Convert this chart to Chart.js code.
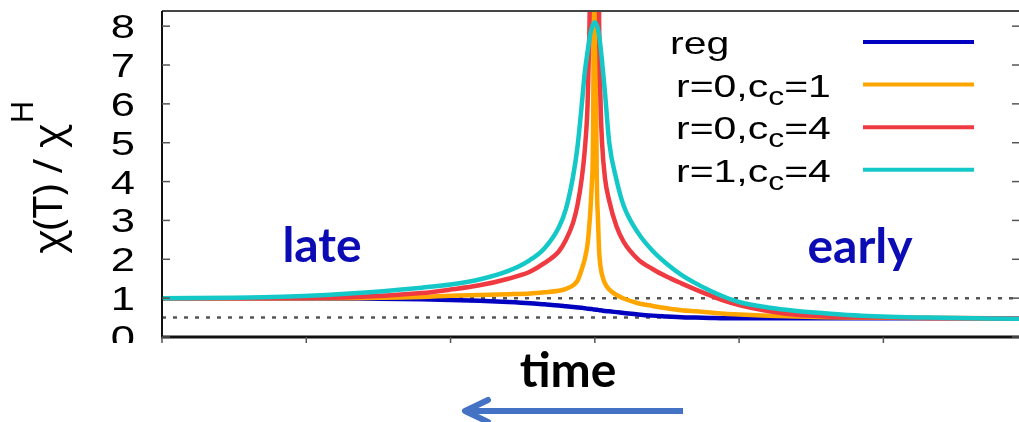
<!DOCTYPE html>
<html>
<head>
<meta charset="utf-8">
<script src="https://cdn.jsdelivr.net/npm/chart.js@4.4.0/dist/chart.umd.min.js"></script>
<style>
  html, body { margin: 0; padding: 0; background: #fff; overflow: hidden; }
  canvas { display: block; }
</style>
</head>
<body>
<canvas id="chart" width="1019" height="422"></canvas>
<script>
// susceptibility ratio chi(T)/chi^H along the quench, peak at the critical point
const time = [0, 0.7, 1.3, 1.8, 2.0, 2.2, 2.4, 2.55, 2.65, 2.75, 2.8, 2.85, 2.88, 2.91, 2.93,
  2.95, 2.96, 2.97, 2.98, 2.99, 3.0, 3.01, 3.02, 3.03, 3.04, 3.05, 3.07, 3.1, 3.15, 3.2,
  3.3, 3.4, 3.5, 3.6, 3.7, 3.8, 3.9, 4.0, 4.2, 4.4, 4.6, 4.85, 5.3, 5.94]

const reg = [1.0, 1.0, 0.99, 0.97, 0.95, 0.93, 0.9, 0.87, 0.84, 0.81, 0.79, 0.77, 0.76, 0.75, 0.74,
  0.73, 0.73, 0.72, 0.72, 0.71, 0.71, 0.7, 0.7, 0.69, 0.69, 0.68, 0.67, 0.66, 0.64, 0.62,
  0.58, 0.55, 0.53, 0.51, 0.5, 0.49, 0.48, 0.48, 0.48, 0.48, 0.48, 0.48, 0.48, 0.48]

const r0c1 = [1.0, 1.0, 1.0, 1.03, 1.06, 1.08, 1.1, 1.12, 1.15, 1.19, 1.24, 1.33, 1.45, 1.75, 2.0,
  2.4, 2.8, 3.3, 4.0, 6.5, 40, 6.0, 3.2, 2.2, 1.8, 1.6, 1.38, 1.22, 1.08, 0.99,
  0.87, 0.8, 0.74, 0.69, 0.66, 0.63, 0.6, 0.58, 0.55, 0.53, 0.51, 0.5, 0.49, 0.48]

const r0c4 = [1.0, 1.0, 1.02, 1.13, 1.22, 1.33, 1.5, 1.68, 1.9, 2.2, 2.5, 2.95, 3.4, 4.1, 4.8,
  6.0, 7.5, 9.5, 13, 20, 40, 20, 13, 8.0, 6.0, 5.0, 4.1, 3.5, 2.85, 2.45,
  2.0, 1.75, 1.55, 1.38, 1.22, 1.07, 0.93, 0.82, 0.67, 0.57, 0.53, 0.51, 0.49, 0.48]

const r1c4 = [1.0, 1.02, 1.12, 1.27, 1.35, 1.48, 1.7, 1.98, 2.28, 2.82, 3.3, 4.15, 4.9, 6.0, 6.8,
  7.35, 7.6, 7.82, 7.97, 8.06, 8.1, 8.05, 7.95, 7.75, 7.45, 7.1, 6.3, 5.0, 4.05, 3.38,
  2.68, 2.22, 1.88, 1.6, 1.38, 1.19, 1.03, 0.9, 0.76, 0.67, 0.61, 0.55, 0.5, 0.47]

const seriesLabels = ['reg', 'r=0,c_c=1', 'r=0,c_c=4', 'r=1,c_c=4']
const seriesColors = ['#0000c0', '#ffa500', '#ee3a40', '#14c8c8']
const refLevels = [1, 0.5]
const yTicks = [0, 1, 2, 3, 4, 5, 6, 7, 8]
const xTicks = [0, 1, 2, 3, 4, 5]
const xRange = [0, 5.94]
const yRange = [0, 8.39]

const GP_FONT = '"Liberation Sans", Arial, sans-serif'
const TITLE_FONT = '"Noto Sans", "Liberation Sans", sans-serif'
const NOTE_FONT = 'Lato, "Open Sans", sans-serif'
const STRETCH = 1.28

function points(values) {
  return time.map((t, i) => ({ x: t, y: values[i] }))
}

function line(ctx, x1, y1, x2, y2) {
  ctx.beginPath()
  ctx.moveTo(x1, y1)
  ctx.lineTo(x2, y2)
  ctx.stroke()
}

// gnuplot-style text: "_c" puts the next char in subscript
function drawEnhanced(ctx, text, x, y, size) {
  ctx.save()
  ctx.translate(x, y)
  ctx.scale(STRETCH, 1)
  ctx.textAlign = 'left'
  ctx.textBaseline = 'alphabetic'
  let cx = 0
  for (let i = 0; i < text.length; i++) {
    let ch = text[i]
    let sub = false
    if (ch === '_' && i + 1 < text.length) {
      ch = text[++i]
      sub = true
    }
    const s = sub ? size * 0.78 : size
    ctx.font = `${s}px ${GP_FONT}`
    ctx.fillText(ch, cx, sub ? 8 : 0)
    cx += ctx.measureText(ch).width
  }
  ctx.restore()
}

const decor = {
  id: 'decor',
  afterDatasetsDraw(chart) {
    const { ctx, chartArea: a, scales: { x, y } } = chart
    ctx.save()

    // border
    ctx.lineCap = 'butt'
    ctx.strokeStyle = '#454545'
    ctx.lineWidth = 2
    line(ctx, a.left, a.top, a.right, a.top)
    ctx.strokeStyle = '#111'
    ctx.lineWidth = 2
    line(ctx, a.left, a.top, a.left, a.bottom + 1)
    ctx.lineWidth = 3
    line(ctx, a.left - 1, a.bottom, a.right, a.bottom)

    // ticks
    ctx.strokeStyle = '#555'
    ctx.lineWidth = 1.5
    for (const v of yTicks) {
      const py = y.getPixelForValue(v)
      line(ctx, a.left, py, a.left + 8, py)
      line(ctx, a.right - 7, py, a.right, py)
    }
    for (const v of xTicks) {
      const px = x.getPixelForValue(v)
      line(ctx, px, a.bottom, px, a.bottom + 6)
    }

    // y tick labels (cut off below the frame)
    ctx.save()
    ctx.beginPath()
    ctx.rect(0, 0, a.left, a.bottom + 6)
    ctx.clip()
    ctx.fillStyle = '#000'
    for (const v of yTicks) {
      const py = y.getPixelForValue(v)
      ctx.save()
      ctx.translate(a.left - 27, py + 12)
      ctx.scale(STRETCH, 1)
      ctx.font = `34px ${GP_FONT}`
      ctx.textAlign = 'right'
      ctx.fillText(String(v), 0, 0)
      ctx.restore()
    }
    ctx.restore()

    // y axis title
    ctx.save()
    ctx.translate(62, 254)
    ctx.rotate(-Math.PI / 2)
    ctx.fillStyle = '#000'
    ctx.textAlign = 'left'
    ctx.font = `40px ${TITLE_FONT}`
    ctx.fillText('χ(T) / χ', 0, 0)
    const w = ctx.measureText('χ(T) / χ').width
    ctx.font = `31px ${TITLE_FONT}`
    ctx.fillText('H', w + 1, -29)
    ctx.restore()

    // key
    ctx.fillStyle = '#000'
    seriesLabels.forEach((label, i) => {
      const ly = 42 + i * 42.6
      ctx.strokeStyle = seriesColors[i]
      ctx.lineWidth = 4
      line(ctx, 863, ly, 974, ly)
      drawEnhanced(ctx, label, i === 0 ? 670 : 676, ly + 12, 32)
    })

    // annotations
    ctx.textAlign = 'center'
    ctx.textBaseline = 'alphabetic'
    ctx.font = `bold 48px ${NOTE_FONT}`
    ctx.fillStyle = '#0c0cb4'
    ctx.fillText('late', 322, 262)
    ctx.fillText('early', 860, 263)
    ctx.fillStyle = '#000'
    ctx.fillText('time', 568, 387)

    // arrow pointing back in time
    ctx.strokeStyle = '#4472c4'
    ctx.lineWidth = 6
    line(ctx, 683, 411, 468, 411)
    ctx.lineCap = 'round'
    ctx.lineJoin = 'round'
    ctx.beginPath()
    ctx.moveTo(488, 400)
    ctx.lineTo(465, 411)
    ctx.lineTo(488, 422)
    ctx.stroke()

    ctx.restore()
  },
}

const curves = [reg, r0c1, r0c4, r1c4].map((values, i) => ({
  label: seriesLabels[i],
  data: points(values),
  borderColor: seriesColors[i],
  borderWidth: 4.5,
  pointRadius: 0,
  cubicInterpolationMode: 'monotone',
  fill: false,
  order: 4 - i,
  clip: { left: 0, top: 0, right: 0, bottom: 4 },
}))

const refs = refLevels.map((lvl, i) => ({
  label: `ref${i}`,
  data: [{ x: xRange[0], y: lvl }, { x: xRange[1], y: lvl }],
  borderColor: '#555',
  borderWidth: 2.5,
  borderDash: [4, 7],
  pointRadius: 0,
  fill: false,
  order: 10 + i,
}))

new Chart(document.getElementById('chart'), {
  type: 'line',
  data: { datasets: [...curves, ...refs] },
  options: {
    responsive: false,
    animation: false,
    devicePixelRatio: 1,
    layout: { padding: { left: 162, right: 0, top: 11, bottom: 85 } },
    plugins: {
      legend: { display: false },
      tooltip: { enabled: false },
    },
    scales: {
      x: { type: 'linear', display: false, min: xRange[0], max: xRange[1] },
      y: { type: 'linear', display: false, min: yRange[0], max: yRange[1] },
    },
  },
  plugins: [decor],
})
</script>
</body>
</html>
